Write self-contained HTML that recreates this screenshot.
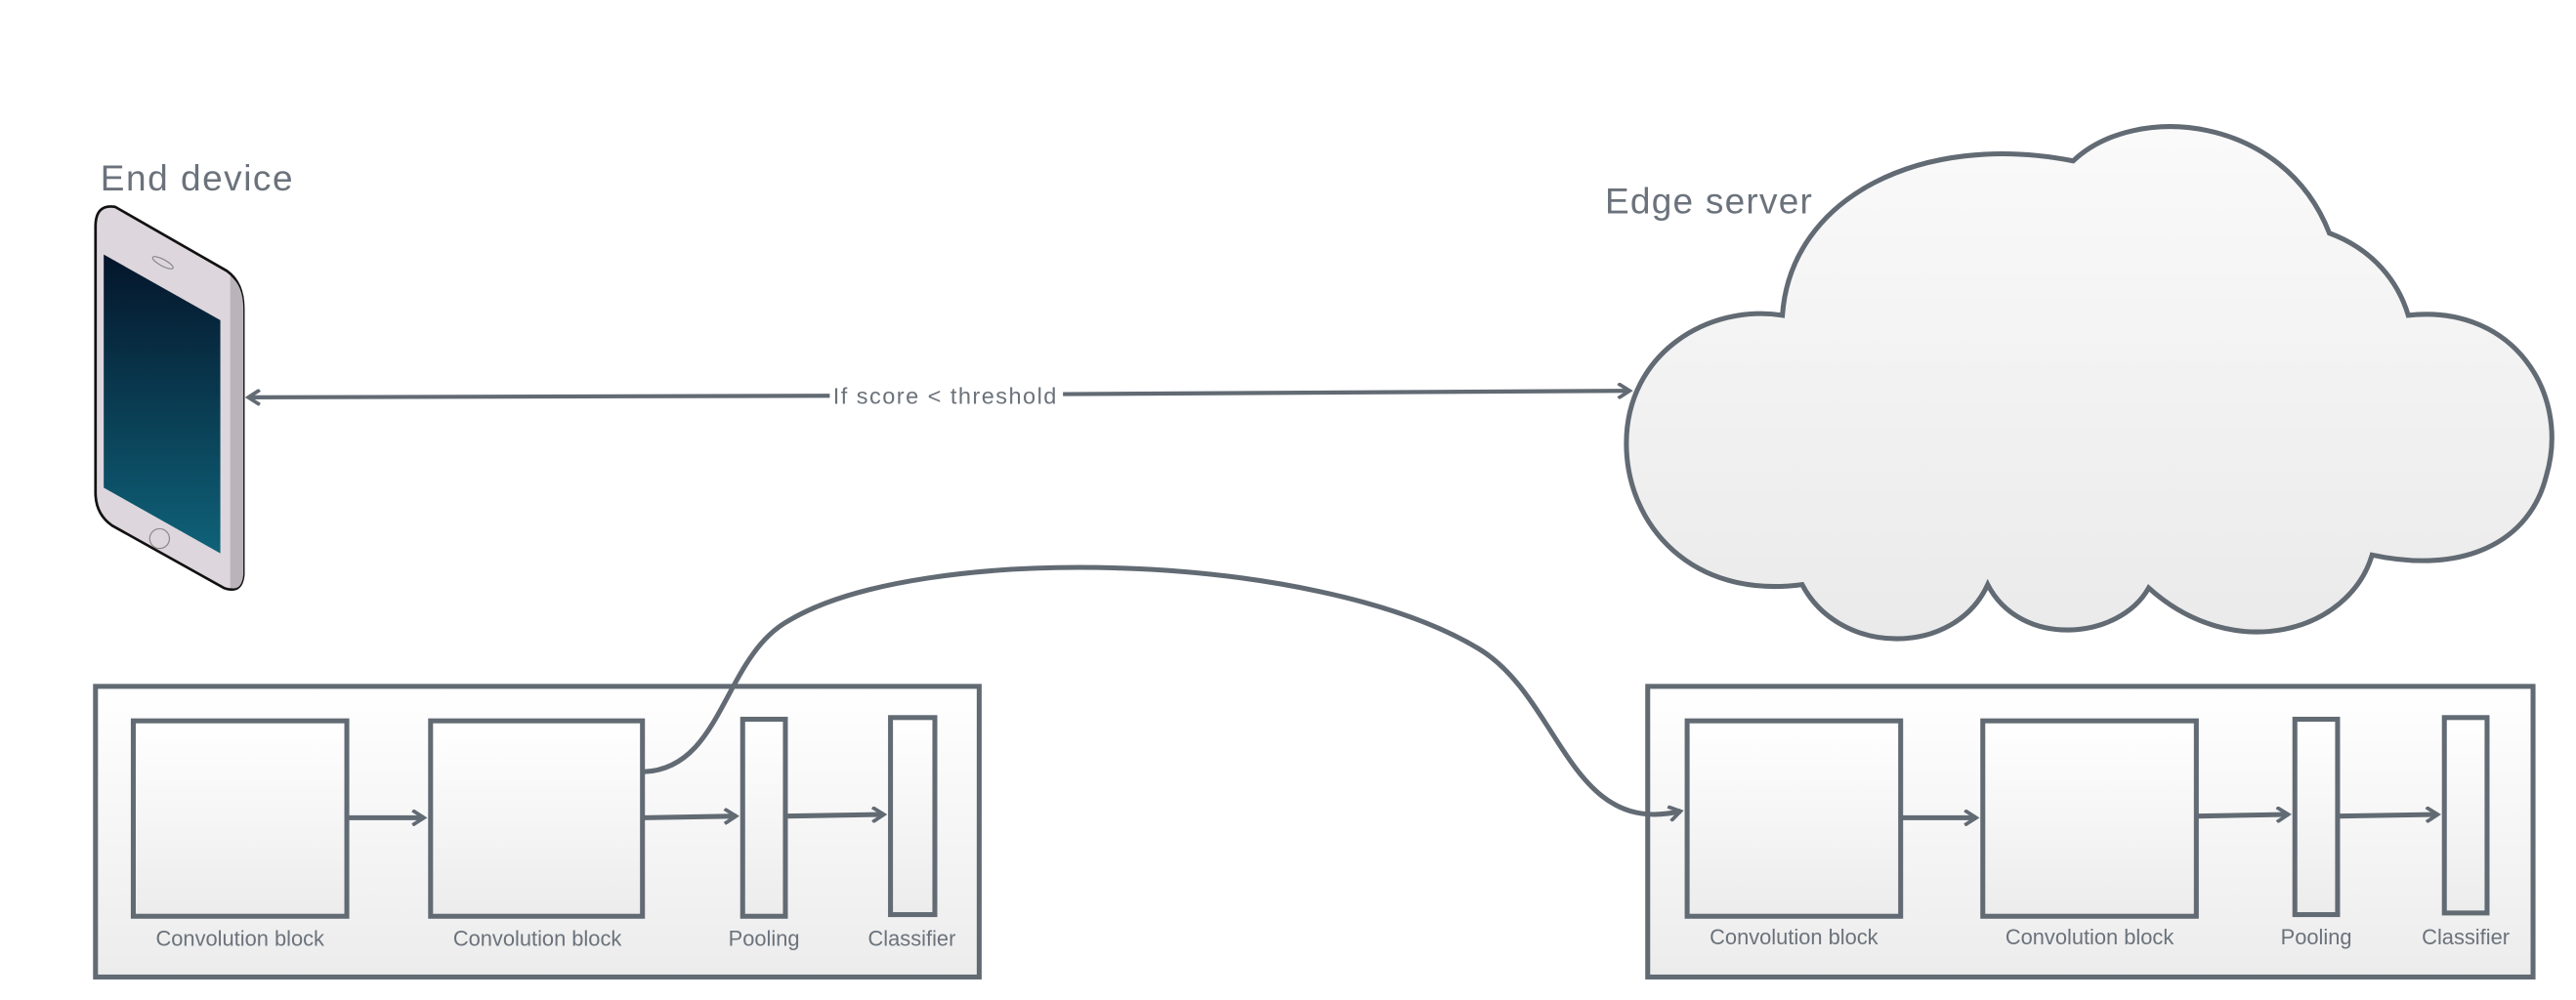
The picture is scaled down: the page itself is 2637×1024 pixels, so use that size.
<!DOCTYPE html>
<html><head><meta charset="utf-8"><style>
html,body{margin:0;padding:0;background:#fff;}
svg{display:block;}
text{font-family:"Liberation Sans",sans-serif;fill:#6b727b;}
</style></head><body>
<svg width="2637" height="1024" viewBox="0 0 1568 609" xmlns="http://www.w3.org/2000/svg">
<defs>
<linearGradient id="scr" x1="0" y1="0" x2="0" y2="1"><stop offset="0" stop-color="#04152a"/><stop offset="1" stop-color="#0f6279"/></linearGradient>
<linearGradient id="box" x1="0" y1="0" x2="0" y2="1"><stop offset="0" stop-color="#ffffff"/><stop offset="1" stop-color="#ececec"/></linearGradient>
<linearGradient id="cl" x1="0" y1="0" x2="0" y2="1"><stop offset="0" stop-color="#fafafa"/><stop offset="1" stop-color="#eaeaea"/></linearGradient>
<marker id="ah" markerWidth="10" markerHeight="10" refX="8" refY="5" orient="auto" markerUnits="userSpaceOnUse"><path d="M1,0.5 L8,5 L1,9.5" fill="none" stroke="#626a73" stroke-width="2.2"/></marker>
</defs>
<text x="61" y="116" font-size="22" textLength="117">End device</text>
<text x="977" y="130" font-size="22" textLength="126">Edge server</text>
<!-- phone -->
<path d="M58,138 Q58,124 70,126 L138,165 Q148,172 148,188 L148,350 Q147,362 136,358 L68,320 Q58,313 58,300 Z" fill="#ddd6dc" stroke="#111" stroke-width="1.6"/>
<path d="M140,168 Q148,174 148,188 L148,350 Q147,360 140,358 Z" fill="#bab4ba"/>
<path d="M63,155 L134,195 L134,337 L63,297 Z" fill="url(#scr)"/>
<ellipse cx="99" cy="160" rx="7" ry="2" transform="rotate(28 99 160)" fill="none" stroke="#888" stroke-width="0.7"/>
<circle cx="97" cy="328" r="6" fill="none" stroke="#888" stroke-width="0.7"/>
<!-- arrow -->
<line x1="505" y1="241" x2="151" y2="242" stroke="#626a73" stroke-width="2.5" marker-end="url(#ah)"/>
<line x1="647" y1="240" x2="992" y2="238" stroke="#626a73" stroke-width="2.5" marker-end="url(#ah)"/>
<text x="507" y="246" font-size="14" textLength="136">If score &lt; threshold</text>
<!-- cloud -->
<path d="M1085,192 C1090,120 1170,80 1262,98 C1300,62 1390,70 1418,142 C1445,152 1460,172 1466,192 C1530,185 1565,240 1550,290 C1540,330 1500,350 1444,338 C1430,385 1360,405 1308,358 C1290,390 1230,395 1210,356 C1190,400 1120,400 1097,356 C1030,365 990,320 990,270 C990,215 1040,185 1085,192 Z" fill="url(#cl)" stroke="#626a73" stroke-width="3"/>
<!-- left container -->
<rect x="58" y="418" width="538" height="177" fill="url(#box)" stroke="#626a73" stroke-width="3"/>
<rect x="81" y="439" width="130" height="119" fill="url(#box)" stroke="#626a73" stroke-width="3"/>
<rect x="262" y="439" width="129" height="119" fill="url(#box)" stroke="#626a73" stroke-width="3"/>
<rect x="452" y="438" width="26" height="120" fill="url(#box)" stroke="#626a73" stroke-width="3"/>
<rect x="542" y="437" width="27" height="120" fill="url(#box)" stroke="#626a73" stroke-width="3"/>
<line x1="212" y1="498" x2="258" y2="498" stroke="#626a73" stroke-width="3" marker-end="url(#ah)"/>
<line x1="392" y1="498" x2="448" y2="497" stroke="#626a73" stroke-width="3" marker-end="url(#ah)"/>
<line x1="479" y1="497" x2="538" y2="496" stroke="#626a73" stroke-width="3" marker-end="url(#ah)"/>
<text x="146" y="576" font-size="13" text-anchor="middle">Convolution block</text>
<text x="327" y="576" font-size="13" text-anchor="middle">Convolution block</text>
<text x="465" y="576" font-size="13" text-anchor="middle">Pooling</text>
<text x="555" y="576" font-size="13" text-anchor="middle">Classifier</text>
<!-- right container -->
<rect x="1003" y="418" width="539" height="177" fill="url(#box)" stroke="#626a73" stroke-width="3"/>
<rect x="1027" y="439" width="130" height="119" fill="url(#box)" stroke="#626a73" stroke-width="3"/>
<rect x="1207" y="439" width="130" height="119" fill="url(#box)" stroke="#626a73" stroke-width="3"/>
<rect x="1397" y="438" width="26" height="119" fill="url(#box)" stroke="#626a73" stroke-width="3"/>
<rect x="1488" y="437" width="26" height="119" fill="url(#box)" stroke="#626a73" stroke-width="3"/>
<line x1="1158" y1="498" x2="1203" y2="498" stroke="#626a73" stroke-width="3" marker-end="url(#ah)"/>
<line x1="1338" y1="497" x2="1393" y2="496" stroke="#626a73" stroke-width="3" marker-end="url(#ah)"/>
<line x1="1424" y1="497" x2="1484" y2="496" stroke="#626a73" stroke-width="3" marker-end="url(#ah)"/>
<text x="1092" y="575" font-size="13" text-anchor="middle">Convolution block</text>
<text x="1272" y="575" font-size="13" text-anchor="middle">Convolution block</text>
<text x="1410" y="575" font-size="13" text-anchor="middle">Pooling</text>
<text x="1501" y="575" font-size="13" text-anchor="middle">Classifier</text>
<!-- curve -->
<path d="M392,470 C440,468 440,400 480,378 C560,330 800,335 900,395 C950,425 955,510 1023,494" fill="none" stroke="#626a73" stroke-width="3" marker-end="url(#ah)"/>
</svg>
</body></html>
